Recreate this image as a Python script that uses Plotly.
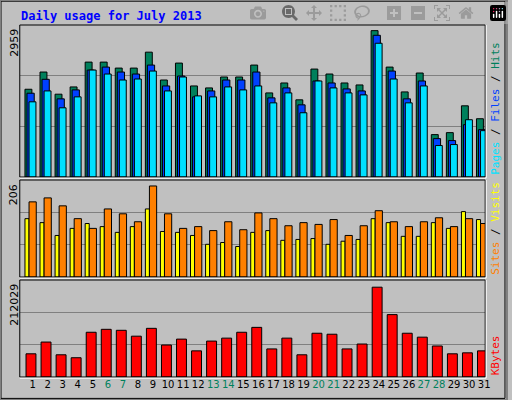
import plotly.graph_objects as go

days = list(range(1, 32))
weekends = [6, 7, 13, 14, 20, 21, 27, 28]

hits = [1774, 2122, 1674, 1821, 2323, 2323, 2202, 2202, 2524, 1961, 2303, 1841, 1801, 2022, 2022, 2263,
        1700, 1901, 1560, 2182, 2082, 1901, 1861, 2959, 2222, 1720, 2102, 857, 897, 1439, 1178]
files = [1694, 1975, 1580, 1761, 2162, 2222, 2122, 2082, 2263, 1841, 2042, 1620, 1740, 1961, 1961, 2122,
         1600, 1801, 1459, 1941, 1901, 1781, 1740, 2865, 2142, 1580, 1941, 776, 736, 1058, 957]
pages = [1520, 1740, 1399, 1620, 2162, 2082, 1961, 1981, 2142, 1740, 2022, 1640, 1620, 1821, 1761, 1841,
         1499, 1700, 1299, 1941, 1801, 1700, 1660, 2704, 1981, 1499, 1841, 636, 656, 1158, 937]
sites = [132, 123, 94, 110, 121, 114, 101, 114, 154, 103, 101, 94, 74, 78, 69, 101,
         105, 83, 85, 87, 74, 81, 85, 132, 123, 92, 92, 123, 110, 148, 130]
visits = [170, 179, 161, 132, 110, 154, 143, 125, 206, 143, 110, 114, 105, 125, 107, 145,
          132, 116, 123, 119, 130, 94, 116, 150, 125, 114, 125, 134, 114, 132, 121]
kbytes = [54741, 82497, 52428, 45489, 105627, 112566, 110253, 96375, 114879, 75558, 89436, 61680, 84810,
          91749, 105627, 117192, 66306, 91749, 52428, 103314, 101001, 66306, 77871, 212029, 147261,
          103314, 94062, 73245, 54741, 57054, 61680]

GREEN, BLUE, CYAN = "#00805C", "#0040FF", "#00E0FF"
YELLOW, ORANGE, RED = "#FFFF00", "#FF8000", "#FF0000"
line = dict(color="black", width=1)

fig = go.Figure()


def bars(y, color, offset, width, axis):
    fig.add_trace(go.Bar(x=days, y=y, marker=dict(color=color, line=line), offset=offset,
                         width=width, xaxis="x" if axis == 1 else f"x{axis}",
                         yaxis="y" if axis == 1 else f"y{axis}", hoverinfo="y"))


bars(hits, GREEN, -0.51, 0.46, 1)
bars(files, BLUE, -0.375, 0.48, 1)
bars(pages, CYAN, -0.24, 0.46, 1)
bars(sites, YELLOW, -0.51, 0.27, 2)
bars(visits, ORANGE, -0.24, 0.48, 2)
bars(kbytes, RED, -0.44, 0.66, 3)

ranges = {1: 3073, 2: 219.5, 3: 229000}
domains = {1: [0.5575, 0.9375], 2: [0.3075, 0.55], 3: [0.0575, 0.30]}
xr = [0.145, 31.07]
layout = dict(width=512, height=400, margin=dict(l=0, r=0, t=0, b=0),
              paper_bgcolor="#C0C0C0", plot_bgcolor="#C0C0C0", barmode="overlay",
              showlegend=False, font=dict(family="DejaVu Sans Mono", size=11, color="black"))
for i in (1, 2, 3):
    s = "" if i == 1 else str(i)
    r = ranges[i]
    layout[f"yaxis{s}"] = dict(domain=domains[i], range=[0, r], tickvals=[r / 3, 2 * r / 3],
                               showticklabels=False, gridcolor="#808080", gridwidth=1,
                               zeroline=False, fixedrange=True, anchor=f"x{s}")
    xa = dict(domain=[0.039, 0.957], range=xr, showgrid=False, zeroline=False,
              anchor=f"y{s}", showticklabels=False, ticks="")
    if i == 3:
        xa.update(showticklabels=True, tickvals=days, tickangle=0,
                  ticktext=[f"<span style='color:{GREEN}'>{d}</span>" if d in weekends else str(d)
                            for d in days],
                  tickfont=dict(family="DejaVu Sans", size=10))
    layout[f"xaxis{s}"] = xa
fig.update_layout(**layout)

# panel frames
for i in (1, 2, 3):
    d = domains[i]
    fig.add_shape(type="rect", xref="paper", yref="paper", x0=0.039, x1=0.957, y0=d[0], y1=d[1],
                  line=dict(color="black", width=1))
    fig.add_shape(type="line", xref="paper", yref="paper", x0=0.039, x1=0.959, y0=d[0] - 0.003,
                  y1=d[0] - 0.003, line=dict(color="white", width=1))
    fig.add_shape(type="line", xref="paper", yref="paper", x0=0.959, x1=0.959, y0=d[0] - 0.003,
                  y1=d[1], line=dict(color="white", width=1))
fig.add_shape(type="rect", xref="paper", yref="paper", x0=0.002, x1=0.996, y0=0.004, y1=0.997,
              line=dict(color="black", width=1))
fig.add_shape(type="rect", xref="paper", yref="paper", x0=0, x1=1, y0=0, y1=1,
              line=dict(color="#808080", width=2))

fig.add_annotation(text="<b>Daily usage for July 2013</b>", xref="paper", yref="paper", x=0.037, y=0.96,
                   xanchor="left", yanchor="middle", showarrow=False,
                   font=dict(family="DejaVu Sans Mono", size=12, color="#0000FF"))

maxes = [("2959", domains[1]), ("206", domains[2]), ("212029", domains[3])]
for txt, d in maxes:
    fig.add_annotation(text=txt, textangle=-90, xref="paper", yref="paper", x=0.027, y=d[1] - 0.005,
                       xanchor="center", yanchor="top", showarrow=False,
                       font=dict(family="DejaVu Sans", size=11, color="black"))

legends = [
    (f"<span style='color:{CYAN}'>Pages</span> / <span style='color:{BLUE}'>Files</span>"
     f" / <span style='color:{GREEN}'>Hits</span>", domains[1]),
    (f"<span style='color:{ORANGE}'>Sites</span> / <span style='color:{YELLOW}'>Visits</span>", domains[2]),
    (f"<span style='color:{RED}'>KBytes</span>", domains[3]),
]
for txt, d in legends:
    fig.add_annotation(text=txt, textangle=-90, xref="paper", yref="paper", x=0.977, y=d[0],
                       xanchor="center", yanchor="bottom", showarrow=False,
                       font=dict(family="DejaVu Sans Mono", size=11))

fig.write_html("out.html", post_script="document.body.style.margin='0';")
